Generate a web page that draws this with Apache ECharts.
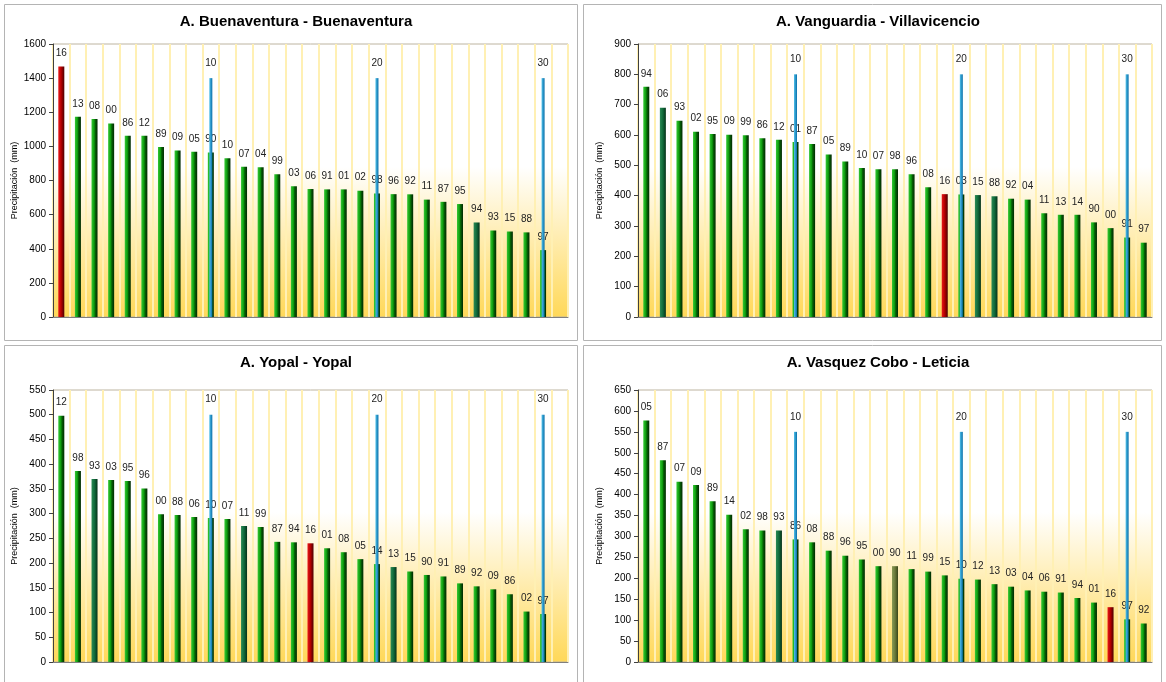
<!DOCTYPE html>
<html>
<head>
<meta charset="utf-8">
<script src="https://cdn.jsdelivr.net/npm/echarts@6/dist/echarts.min.js"></script>
<style>
  html, body { margin: 0; padding: 0; background: #fff; }
  #chart { width: 1166px; height: 682px; }
</style>
</head>
<body>
<div id="chart"></div>
<script>
// titulos de cada estacion
var titles = ['A. Buenaventura - Buenaventura', 'A. Vanguardia - Villavicencio', 'A. Yopal - Yopal', 'A. Vasquez Cobo - Leticia'];

// Buenaventura (30 años ordenados)
var buenaventuraYears = ['16','13','08','00','86','12','89','09','05','90','10','07','04','99','03','06','91','01','02','98','96','92','11','87','95','94','93','15','88','97'];
var buenaventuraValues = [1468,1173,1160,1134,1062,1062,997,976,968,964,930,880,878,836,766,750,748,748,740,724,720,719,688,675,662,554,507,501,496,392];

// Villavicencio
var villavicencioYears = ['94','06','93','02','95','09','99','86','12','01','87','05','89','10','07','98','96','08','16','03','15','88','92','04','11','13','14','90','00','91','97'];
var villavicencioValues = [759,690,647,611,603,601,599,589,584,577,570,536,513,491,487,487,471,428,405,404,402,398,390,387,342,337,337,312,293,262,245];

// Yopal
var yopalYears = ['12','98','93','03','95','96','00','88','06','10','07','11','99','87','94','16','01','08','05','14','13','15','90','91','89','92','09','86','02','97'];
var yopalValues = [498,386,370,368,366,351,299,297,293,291,289,275,273,243,242,240,230,222,208,198,192,183,176,173,159,153,147,137,102,97];

// Leticia
var leticiaYears = ['05','87','07','09','89','14','02','98','93','86','08','88','96','95','00','90','11','99','15','10','12','13','03','04','06','91','94','01','16','97','92'];
var leticiaValues = [577,482,431,423,384,352,317,314,314,293,286,266,254,245,229,229,222,216,207,199,197,186,180,171,168,166,153,142,131,102,92];

// marcas azules cada 10 posiciones
var markerPositions = [10, 20, 30];
var markerHeights = [1400, 800, 500, 550];

// ejes
var axisMax = [1600, 900, 550, 650];
var axisInterval = [200, 100, 50, 50];

// colores especiales
var tealYears = [['94'], ['06', '88', '15'], ['93', '11', '13'], ['93']];
var oliveYears = [[], [], [], ['90']];
var redYear = '16';

var allYears = [buenaventuraYears, villavicencioYears, yopalYears, leticiaYears];
var allValues = [buenaventuraValues, villavicencioValues, yopalValues, leticiaValues];

var categories = [];
for (var c = 1; c <= 31; c++) categories.push(String(c));

function hGrad(stops) {
  return { type: 'linear', x: 0, y: 0, x2: 1, y2: 0, colorStops: stops };
}
var greenFill = hGrad([{ offset: 0, color: '#35C835' }, { offset: 0.45, color: '#0C9A0C' }, { offset: 0.6, color: '#066206' }, { offset: 1, color: '#012801' }]);
var redFill = hGrad([{ offset: 0, color: '#E81818' }, { offset: 0.5, color: '#B00000' }, { offset: 1, color: '#4A0000' }]);
var tealFill = hGrad([{ offset: 0, color: '#2A8A55' }, { offset: 0.5, color: '#106A3A' }, { offset: 1, color: '#043018' }]);
var oliveFill = hGrad([{ offset: 0, color: '#8A9A55' }, { offset: 0.5, color: '#6A7A3A' }, { offset: 1, color: '#3A4418' }]);
var blueFill = hGrad([{ offset: 0, color: '#4FC0EA' }, { offset: 1, color: '#0A6EA8' }]);

var grids = [
  { left: 53, top: 44, width: 515, height: 273 },
  { left: 638, top: 44, width: 514, height: 273 },
  { left: 53, top: 390, width: 515, height: 272 },
  { left: 638, top: 390, width: 514, height: 272 }
];
var titlePos = [[291, 9], [873, 9], [291, 350], [873, 350]];

var option = {
  animation: false,
  textStyle: { fontFamily: 'Arial, "Liberation Sans", sans-serif' },
  title: [],
  grid: [],
  xAxis: [],
  yAxis: [],
  series: [],
  graphic: [
    { type: 'rect', shape: { x: 4.5, y: 4.5, width: 573, height: 336 }, style: { fill: 'none', stroke: '#B4B4B4', lineWidth: 1 } },
    { type: 'rect', shape: { x: 583.5, y: 4.5, width: 578, height: 336 }, style: { fill: 'none', stroke: '#B4B4B4', lineWidth: 1 } },
    { type: 'rect', shape: { x: 4.5, y: 345.5, width: 573, height: 340 }, style: { fill: 'none', stroke: '#B4B4B4', lineWidth: 1 } },
    { type: 'rect', shape: { x: 583.5, y: 345.5, width: 578, height: 340 }, style: { fill: 'none', stroke: '#B4B4B4', lineWidth: 1 } }
  ]
};

for (var i = 0; i < 4; i++) {
  var g = grids[i];
  option.title.push({
    text: titles[i], left: titlePos[i][0], top: titlePos[i][1], textAlign: 'center',
    textStyle: { fontSize: 15, fontWeight: 'bold', color: '#000', fontFamily: 'Arial, "Liberation Sans", sans-serif' }
  });
  option.grid.push({
    left: g.left, top: g.top, width: g.width, height: g.height, show: true,
    borderColor: '#BDB4A0', borderWidth: 1,
    backgroundColor: {
      type: 'linear', x: 0, y: 0, x2: 0, y2: 1,
      colorStops: [{ offset: 0, color: '#FFFFFF' }, { offset: 0.45, color: '#FFFFFF' }, { offset: 1, color: '#FFD858' }]
    }
  });
  option.xAxis.push({
    gridIndex: i, type: 'category', data: categories,
    axisLabel: { show: false }, axisTick: { show: false },
    axisLine: { lineStyle: { color: '#7F7F7F', width: 1 } },
    splitLine: { show: true, interval: 0, lineStyle: { color: '#FFF0B4', width: 2 } }
  });
  option.xAxis.push({ gridIndex: i, type: 'category', data: categories, show: false });
  option.yAxis.push({
    gridIndex: i, type: 'value', min: 0, max: axisMax[i], interval: axisInterval[i],
    name: 'Precipitación  (mm)', nameLocation: 'middle', nameGap: 34, nameRotate: 90,
    nameTextStyle: { fontSize: 9, color: '#000' },
    axisLine: { show: true, lineStyle: { color: '#404040' } },
    axisTick: { show: true, length: 4, lineStyle: { color: '#404040' } },
    axisLabel: { fontSize: 10, color: '#000', margin: 7, formatter: function (v) { return String(v); } },
    splitLine: { show: false }
  });

  var yrs = allYears[i];
  var vals = allValues[i];
  var data = vals.map(function (v, k) {
    var y = yrs[k];
    var fill = greenFill;
    if (y === redYear) fill = redFill;
    else if (tealYears[i].indexOf(y) >= 0) fill = tealFill;
    else if (oliveYears[i].indexOf(y) >= 0) fill = oliveFill;
    return { value: v, itemStyle: { color: fill } };
  });
  option.series.push({
    type: 'bar', xAxisIndex: 2 * i, yAxisIndex: i, barWidth: 6, data: data, z: 2,
    label: {
      show: true, position: 'top', distance: 8, fontSize: 10, color: '#222',
      formatter: (function (list) { return function (p) { return list[p.dataIndex]; }; })(yrs)
    }
  });

  var markers = categories.map(function (cat) {
    return markerPositions.indexOf(Number(cat)) >= 0 ? markerHeights[i] : '-';
  });
  option.series.push({
    type: 'bar', xAxisIndex: 2 * i + 1, yAxisIndex: i, barWidth: 3, data: markers, z: 3,
    itemStyle: { color: blueFill },
    label: {
      show: true, position: 'top', distance: 10, fontSize: 10, color: '#222',
      formatter: function (p) { return String(p.dataIndex + 1); }
    }
  });
}

var chart = echarts.init(document.getElementById('chart'));
chart.setOption(option);
</script>
</body>
</html>
